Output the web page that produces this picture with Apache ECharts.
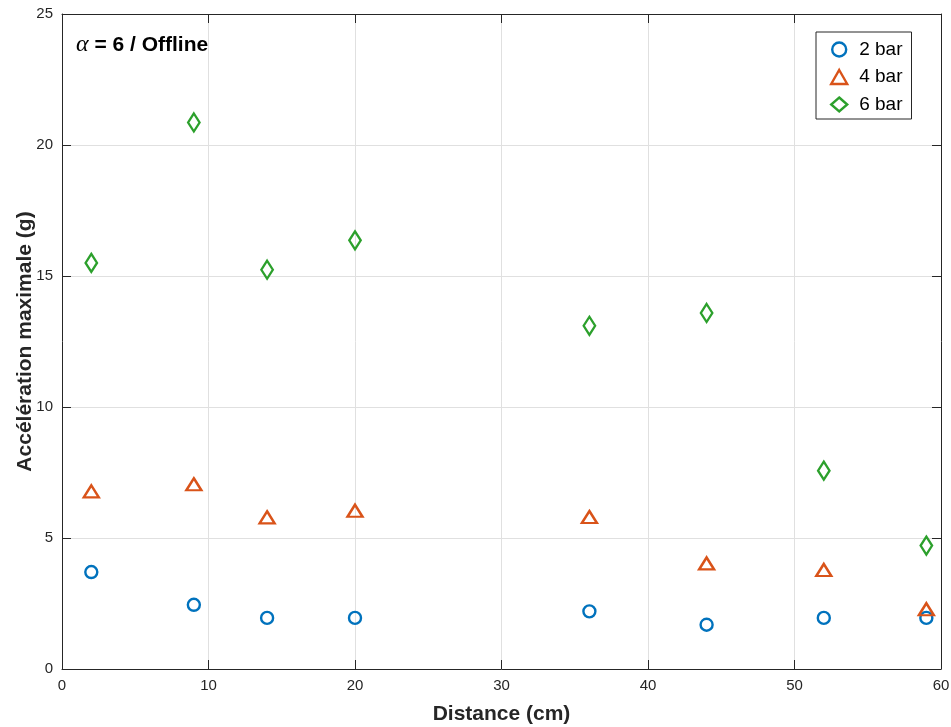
<!DOCTYPE html>
<html>
<head>
<meta charset="utf-8">
<script src="https://cdn.jsdelivr.net/npm/echarts@6/dist/echarts.min.js"></script>
<style>html,body{margin:0;padding:0;background:#fff}#c{width:951px;height:727px}</style>
</head>
<body>
<div id="c"></div>
<script>
const distances = [2, 9, 14, 20, 36, 44, 52, 59];
const bar2 = [3.70, 2.45, 1.95, 1.95, 2.20, 1.69, 1.95, 1.95];
const bar4 = [6.78, 7.05, 5.79, 6.04, 5.80, 4.03, 3.78, 2.28];
const bar6 = [15.50, 20.86, 15.24, 16.36, 13.10, 13.59, 7.57, 4.71];
const seriesNames = ['2 bar', '4 bar', '6 bar'];
const colors = ['#0072BD', '#D95319', '#2CA02C'];

const font = 'Liberation Sans, Arial, Helvetica, sans-serif';
const axisColor = '#262626';

function pts(ys){ return distances.map((x,i)=>[x, ys[i]]); }

const chart = echarts.init(document.getElementById('c'), null, {renderer:'canvas'});

const baseAxis = {
  axisLine:{show:true, onZero:false, lineStyle:{color:axisColor, width:1}},
  axisTick:{show:true, inside:true, length:9, lineStyle:{color:axisColor}},
};

chart.setOption({
  animation:false,
  backgroundColor:'#fff',
  grid:{left:62, top:14, right:10, bottom:58, containLabel:false, outerBoundsMode:'none'},
  title:{
    text:'{a|α} = 6 / Offline',
    left:71, top:28,
    textStyle:{fontFamily:font, fontSize:21, fontWeight:'bold', color:'#000',
      rich:{a:{fontFamily:'Liberation Serif, DejaVu Serif, serif', fontStyle:'italic', fontSize:24, fontWeight:'normal', color:'#000'}}}
  },
  legend:{
    orient:'vertical', left:816, top:32,
    padding:[8,9,5,14],
    itemGap:8.5, itemWidth:16, itemHeight:14,
    backgroundColor:'#fff', borderColor:'#262626', borderWidth:1,
    textStyle:{fontFamily:font, fontSize:19, color:'#000', padding:[0,0,0,7]},
    data:[
      {name:'2 bar', icon:'circle', itemStyle:{color:'rgba(0,0,0,0)', borderColor:colors[0], borderWidth:2.4}},
      {name:'4 bar', icon:'triangle', itemStyle:{color:'rgba(0,0,0,0)', borderColor:colors[1], borderWidth:2.4}},
      {name:'6 bar', icon:'diamond', itemStyle:{color:'rgba(0,0,0,0)', borderColor:colors[2], borderWidth:2.4}}
    ]
  },
  xAxis:[
    Object.assign({}, baseAxis, {
      type:'value', min:0, max:60, interval:10, position:'bottom',
      name:'Distance (cm)', nameLocation:'middle', nameGap:35, nameMoveOverlap:false,
      nameTextStyle:{fontFamily:font, fontSize:21, fontWeight:'bold', color:axisColor},
      axisLabel:{fontFamily:font, fontSize:15, color:axisColor, margin:9},
      splitLine:{show:true, lineStyle:{color:'#e0e0e0', width:1}}
    }),
    Object.assign({}, baseAxis, {
      type:'value', min:0, max:60, interval:10, position:'top',
      axisLabel:{show:false}, splitLine:{show:false}
    })
  ],
  yAxis:[
    Object.assign({}, baseAxis, {
      type:'value', min:0, max:25, interval:5, position:'left',
      name:'Accélération maximale (g)', nameLocation:'middle', nameGap:26, nameMoveOverlap:false,
      nameTextStyle:{fontFamily:font, fontSize:21, fontWeight:'bold', color:axisColor},
      axisLabel:{fontFamily:font, fontSize:15, color:axisColor, margin:9},
      splitLine:{show:true, lineStyle:{color:'#e0e0e0', width:1}}
    }),
    Object.assign({}, baseAxis, {
      type:'value', min:0, max:25, interval:5, position:'right',
      axisLabel:{show:false}, splitLine:{show:false}
    })
  ],
  series:[
    {name:seriesNames[0], type:'scatter', data:pts(bar2), symbol:'circle', symbolSize:[12,12],
     itemStyle:{color:'rgba(0,0,0,0)', borderColor:colors[0], borderWidth:2.4, opacity:1}},
    {name:seriesNames[1], type:'scatter', data:pts(bar4), symbol:'triangle', symbolSize:[15,12],
     itemStyle:{color:'rgba(0,0,0,0)', borderColor:colors[1], borderWidth:2.4, opacity:1}},
    {name:seriesNames[2], type:'scatter', data:pts(bar6), symbol:'diamond', symbolSize:[11.5,18],
     itemStyle:{color:'rgba(0,0,0,0)', borderColor:colors[2], borderWidth:2.4, opacity:1}}
  ]
});
</script>
</body>
</html>
